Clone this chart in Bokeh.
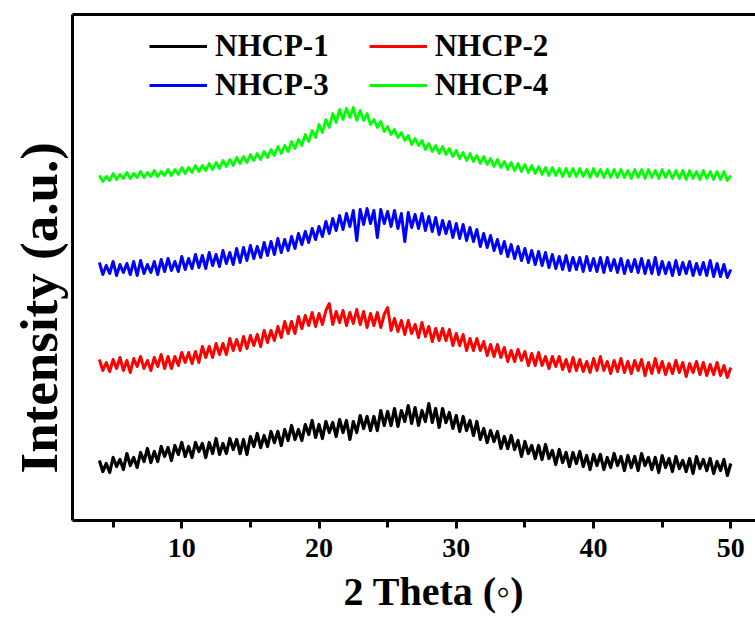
import numpy as np
from bokeh.plotting import figure
from bokeh.models import Range1d, FixedTicker, LinearAxis, Legend, LegendItem, Title
from bokeh.embed import file_html
from bokeh.resources import INLINE

# ---- data (2 theta sampled every 0.25 deg starting at 4.0; stacked intensity, a.u.) ----
THETA_START = 4.0
THETA_STEP = 0.25
X_TICKS = [10, 20, 30, 40, 50]
X_MINOR_TICKS = [5, 15, 25, 35, 45]
NAMES = ["NHCP-1", "NHCP-2", "NHCP-3", "NHCP-4"]
COLORS = ["#000000", "#ff0000", "#0000ff", "#00ff00"]
X_LABEL = "2 Theta (\u25e6)"
Y_LABEL = "Intensity (a.u.)"

nhcp1 = [
    60, 49, 57, 48,  63, 54, 61, 51,  67, 55, 63, 53,  68, 59, 72, 58,
    69, 59, 74, 64,  73, 60, 75, 66,  78, 64, 74, 63,  78, 69, 77, 63,
    78, 67, 82, 66,  77, 67, 82, 71,  81, 67, 81, 66,  84, 74, 87, 73,
    85, 74, 89, 78,  89, 75, 91, 80,  95, 81, 91, 80,  96, 86, 100, 83,
    96, 82, 99, 88,  98, 84, 101, 88,  100, 81, 99, 88,  105, 92, 104, 90,
    104, 90, 110, 95,  109, 95, 112, 94,  110, 99, 115, 97,  113, 95, 110, 99,
    117, 98, 112, 93,  112, 98, 108, 92,  105, 89, 104, 90,  100, 85, 99, 81,
    92, 78, 90, 79,  89, 72, 84, 72,  85, 71, 80, 64,  79, 67, 75, 62,
    75, 61, 76, 62,  70, 56, 71, 58,  68, 54, 68, 57,  69, 54, 65, 51,
    66, 55, 66, 51,  63, 53, 67, 55,  64, 50, 65, 53,  64, 50, 67, 55,
    63, 51, 63, 48,  65, 53, 62, 49,  64, 52, 60, 49,  62, 47, 64, 52,
    61, 50, 62, 47,  59, 50, 61, 45,  57,
]
nhcp2 = [
    161, 150, 158, 149,  161, 152, 163, 150,  160, 148, 162, 154,  164, 152, 160, 150,
    163, 154, 166, 152,  164, 152, 164, 155,  168, 158, 168, 157,  169, 158, 174, 163,
    174, 163, 177, 166,  177, 166, 182, 170,  181, 170, 184, 172,  185, 175, 186, 174,
    190, 178, 190, 180,  194, 183, 199, 187,  199, 187, 204, 192,  205, 195, 208, 194,
    207, 196, 210, 217,  196, 209, 198, 210,  195, 208, 197, 211,  196, 209, 193, 207,
    195, 208, 193, 206,  213, 190, 202, 189,  200, 186, 200, 187,  196, 183, 198, 184,
    194, 179, 192, 180,  192, 180, 191, 175,  187, 175, 186, 170,  182, 170, 182, 170,
    179, 165, 176, 164,  176, 163, 173, 159,  170, 159, 171, 160,  169, 155, 167, 155,
    168, 155, 164, 152,  164, 154, 164, 151,  161, 149, 163, 150,  161, 149, 159, 148,
    162, 150, 164, 150,  159, 147, 160, 149,  162, 148, 159, 147,  160, 150, 161, 145,
    158, 147, 162, 148,  159, 146, 157, 147,  160, 148, 158, 144,  157, 148, 159, 146,
    158, 145, 156, 146,  158, 145, 155, 143,  153,
]
nhcp3 = [
    258, 246, 255, 247,  259, 245, 256, 248,  257, 246, 259, 245,  260, 247, 256, 248,
    259, 246, 261, 249,  262, 250, 259, 249,  264, 251, 262, 252,  266, 253, 265, 252,
    268, 255, 266, 254,  270, 257, 268, 256,  272, 258, 273, 260,  275, 262, 274, 263,
    278, 265, 279, 266,  282, 268, 281, 270,  284, 272, 287, 276,  289, 278, 292, 281,
    294, 284, 299, 287,  302, 290, 305, 291,  307, 294, 310, 280,  311, 296, 312, 297,
    310, 283, 311, 297,  309, 294, 310, 292,  307, 279, 308, 293,  306, 292, 307, 290,
    304, 289, 303, 286,  300, 287, 299, 283,  297, 282, 296, 280,  293, 279, 291, 274,
    287, 273, 285, 270,  281, 267, 279, 264,  276, 262, 274, 260,  272, 258, 270, 256,
    269, 255, 268, 253,  266, 252, 264, 251,  265, 250, 263, 251,  263, 249, 264, 250,
    262, 249, 263, 248,  263, 250, 261, 248,  262, 247, 260, 249,  261, 248, 262, 247,
    260, 247, 263, 246,  259, 247, 258, 245,  260, 246, 258, 247,  259, 245, 257, 246,
    258, 245, 260, 244,  257, 244, 256, 243,  251,
]
nhcp4 = [
    345, 339, 344, 340,  347, 341, 346, 342,  348, 342, 347, 343,  349, 343, 348, 344,
    350, 344, 349, 345,  351, 345, 351, 346,  353, 347, 353, 348,  355, 349, 355, 350,
    357, 351, 358, 352,  360, 354, 361, 355,  363, 357, 364, 358,  366, 360, 367, 361,
    369, 363, 371, 365,  374, 367, 375, 369,  379, 372, 381, 375,  386, 379, 390, 383,
    396, 388, 401, 393,  407, 398, 411, 401,  412, 403, 413, 400,  410, 400, 407, 396,
    401, 393, 399, 389,  394, 386, 391, 383,  388, 380, 385, 376,  382, 375, 380, 371,
    377, 369, 375, 367,  374, 366, 372, 364,  370, 362, 368, 360,  367, 359, 365, 357,
    364, 356, 362, 354,  361, 353, 359, 351,  358, 350, 357, 349,  356, 348, 355, 347,
    354, 346, 353, 345,  353, 345, 352, 344,  352, 344, 352, 344,  352, 344, 351, 343,
    352, 344, 351, 343,  351, 343, 351, 343,  351, 343, 350, 342,  351, 343, 351, 342,
    351, 343, 350, 342,  351, 343, 350, 342,  350, 342, 350, 341,  350, 342, 349, 341,
    350, 342, 349, 341,  349, 341, 349, 340,  345,
]
SERIES = [nhcp1, nhcp2, nhcp3, nhcp4]
LINE_WIDTHS = [3.2, 3.0, 3.0, 2.8]

# ---- layout ----
FONT = "Liberation Serif"
W, H = 755, 621
X_RANGE = (2.04, 51.8)
Y_RANGE = (0, 506)

p = figure(width=W, height=H, output_backend="svg", toolbar_location=None,
           x_range=Range1d(*X_RANGE), y_range=Range1d(*Y_RANGE),
           min_border_left=72, min_border_right=0, min_border_top=14,
           min_border_bottom=101)
p.outline_line_color = None
p.grid.visible = False
p.background_fill_color = "white"
p.border_fill_color = "white"

renderers = []
for ys, col, lw in zip(SERIES, COLORS, LINE_WIDTHS):
    xs = THETA_START + THETA_STEP * np.arange(len(ys))
    r = p.line(xs, ys, line_color=col, line_width=lw, line_join="round")
    renderers.append(r)

# bottom axis
xa = p.xaxis[0]
xa.ticker = FixedTicker(ticks=X_TICKS, minor_ticks=X_MINOR_TICKS)
xa.axis_line_width = 3
xa.major_tick_line_width = 3
xa.minor_tick_line_width = 3
xa.major_tick_in = 0
xa.major_tick_out = 8
xa.minor_tick_in = 0
xa.minor_tick_out = 7
xa.major_label_text_font = FONT
xa.major_label_text_font_style = "bold"
xa.major_label_text_font_size = "28px"
xa.major_label_text_color = "black"
xa.major_label_standoff = 10

# left axis: line only
ya = p.yaxis[0]
ya.ticker = FixedTicker(ticks=[])
ya.axis_line_width = 3
ya.major_tick_line_color = None
ya.minor_tick_line_color = None
ya.major_label_text_font_size = "0px"

# top axis: line only (frame top)
top = LinearAxis(ticker=FixedTicker(ticks=[]), axis_line_width=3,
                 major_tick_line_color=None, minor_tick_line_color=None,
                 major_label_text_font_size="0px")
p.add_layout(top, "above")

# axis titles
p.add_layout(Title(text=X_LABEL, align="left", offset=271, standoff=14,
                   text_font=FONT, text_font_style="bold", text_font_size="40px",
                   text_color="black"), "below")
p.add_layout(Title(text=Y_LABEL, align="left", offset=47, standoff=10,
                   text_font=FONT, text_font_style="bold", text_font_size="53px",
                   text_line_height=1.0, text_color="black"), "left")

# legends (two rows, two columns)
def make_legend(idx, loc):
    items = [LegendItem(label=NAMES[i], renderers=[renderers[i]]) for i in idx]
    return Legend(items=items, orientation="horizontal", location=loc,
                  label_text_font=FONT, label_text_font_style="bold",
                  label_text_font_size="31px", label_text_color="black",
                  glyph_width=58, glyph_height=36, label_height=36,
                  label_standoff=8, spacing=40, padding=0, margin=0,
                  border_line_color=None, background_fill_alpha=0)

p.add_layout(make_legend([0, 1], (77, 456)), "center")
p.add_layout(make_legend([2, 3], (77, 417)), "center")

open("out.html", "w").write(file_html(p, INLINE))
